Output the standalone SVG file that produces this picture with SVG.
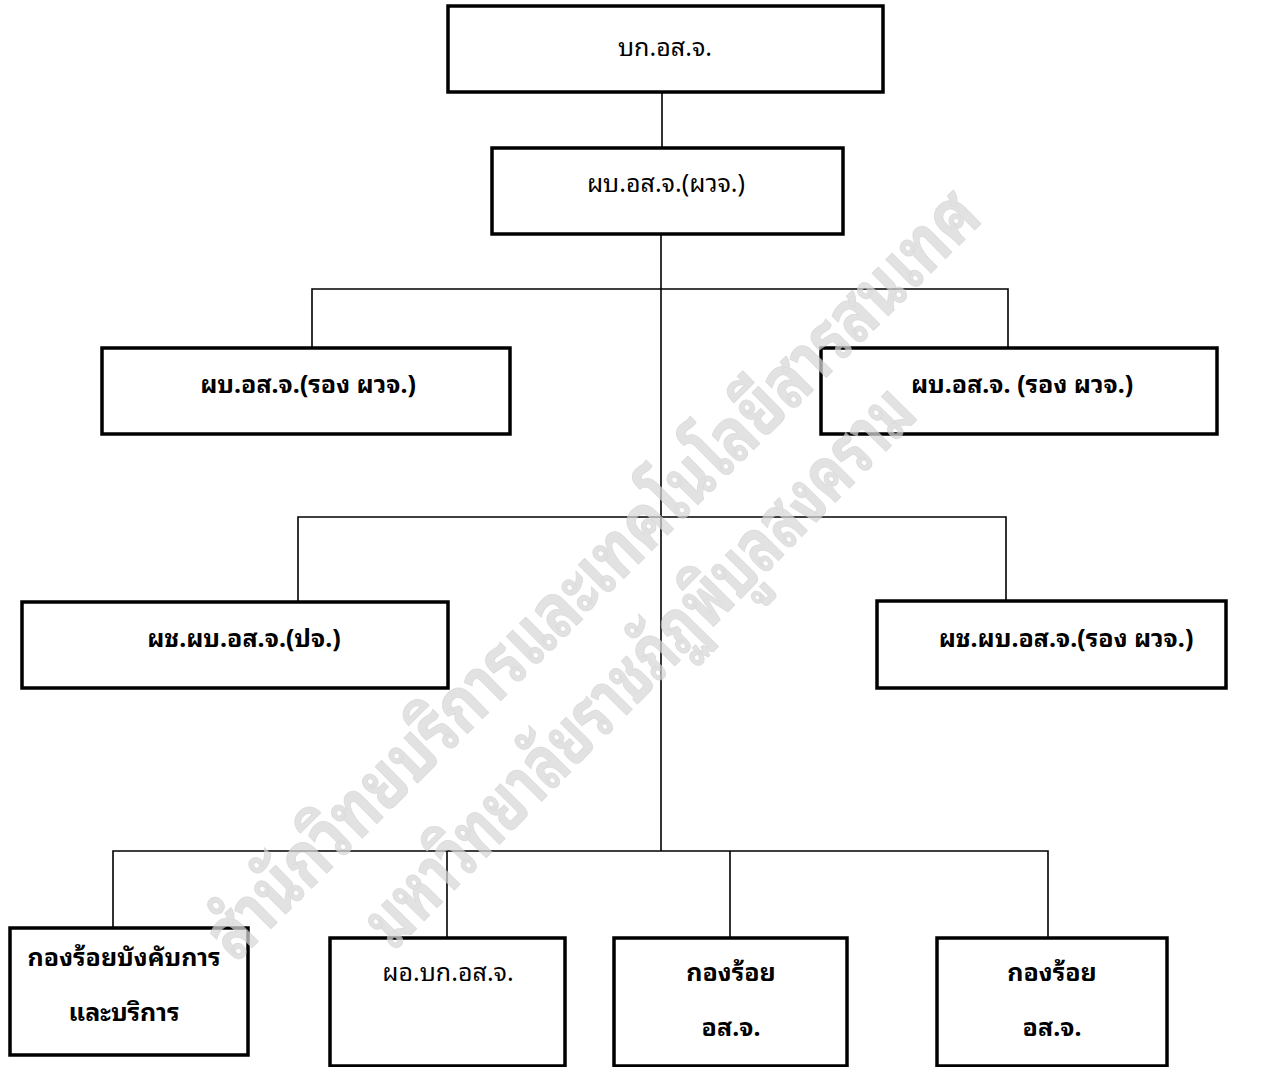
<svg xmlns="http://www.w3.org/2000/svg" width="1264" height="1067" viewBox="0 0 1264 1067">
<style>
.box{fill:#fff;stroke:#000;stroke-width:3.5}
.t{font-family:"Noto Sans Thai Looped","Noto Sans Thai","Tahoma","Liberation Sans","DejaVu Sans",sans-serif;font-size:25px;fill:#000;text-anchor:middle}
.b{font-weight:bold}
.con{fill:none;stroke:#000;stroke-width:1.6}
.wm{font-family:"Noto Sans Thai Looped","Noto Sans Thai","Tahoma","Liberation Sans","DejaVu Sans",sans-serif;font-size:74px;font-weight:bold;fill:#d8d8d8;stroke:#cfcfcf;stroke-width:1;opacity:0.72;text-anchor:middle}
</style>
<rect width="1264" height="1067" fill="#fff"/>
<g id="connectors">
<path class="con" d="M662,92 V148"/>
<path class="con" d="M661,234 V851"/>
<path class="con" d="M312,348 V289 H1008 V348"/>
<path class="con" d="M298,602 V517 H1006 V601"/>
<path class="con" d="M113,928 V851 H1048 V938"/>
<path class="con" d="M447,851 V938"/>
<path class="con" d="M730,851 V938"/>
</g>
<g id="n1"><rect class="box" x="448" y="6" width="435" height="86"/><text class="t" x="665" y="56">บก.อส.จ.</text></g>
<g id="n2"><rect class="box" x="492" y="148" width="351" height="86"/><text class="t" x="666" y="192">ผบ.อส.จ.(ผวจ.)</text></g>
<g id="n3"><rect class="box" x="102" y="348" width="408" height="86"/><text class="t b" x="308" y="393">ผบ.อส.จ.(รอง ผวจ.)</text></g>
<g id="n4"><rect class="box" x="821" y="348" width="396" height="86"/><text class="t b" x="1022" y="393">ผบ.อส.จ. (รอง ผวจ.)</text></g>
<g id="n5"><rect class="box" x="22" y="602" width="426" height="86"/><text class="t b" x="244" y="647">ผช.ผบ.อส.จ.(ปจ.)</text></g>
<g id="n6"><rect class="box" x="877" y="601" width="349" height="87"/><text class="t b" x="1066" y="647">ผช.ผบ.อส.จ.(รอง ผวจ.)</text></g>
<g id="n7"><rect class="box" x="10" y="928" width="238" height="127"/><text class="t b" x="124" y="966">กองร้อยบังคับการ</text><text class="t b" x="124" y="1021">และบริการ</text></g>
<g id="n8"><rect class="box" x="330" y="938" width="235" height="128"/><text class="t" x="448" y="981">ผอ.บก.อส.จ.</text></g>
<g id="n9"><rect class="box" x="614" y="938" width="233" height="128"/><text class="t b" x="731" y="981">กองร้อย</text><text class="t b" x="731" y="1036">อส.จ.</text></g>
<g id="n10"><rect class="box" x="937" y="938" width="230" height="128"/><text class="t b" x="1052" y="981">กองร้อย</text><text class="t b" x="1052" y="1036">อส.จ.</text></g>
<g id="watermark">
<text class="wm" transform="translate(610,592) rotate(-44.8)" textLength="1055" lengthAdjust="spacingAndGlyphs">สำนักวิทยบริการและเทคโนโลยีสารสนเทศ</text>
<text class="wm" transform="translate(657,684) rotate(-45.5)" textLength="750" lengthAdjust="spacingAndGlyphs">มหาวิทยาลัยราชภัฏพิบูลสงคราม</text>
</g>
</svg>
